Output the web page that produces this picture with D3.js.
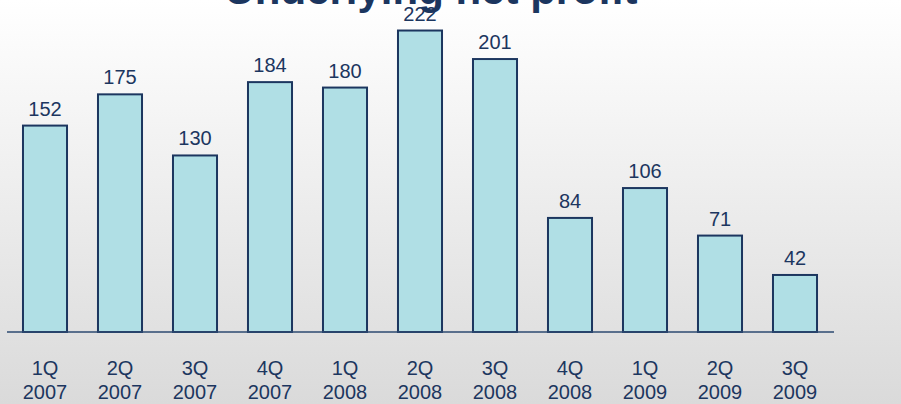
<!DOCTYPE html>
<html>
<head>
<meta charset="utf-8">
<script src="https://cdn.jsdelivr.net/npm/d3@7"></script>
<style>
  html, body { margin: 0; padding: 0; overflow: hidden; }
  svg { display: block; }
</style>
</head>
<body>
<svg id="chart" width="901" height="404"></svg>
<script>
const title = "Underlying net profit";
const quarters = ["1Q", "2Q", "3Q", "4Q", "1Q", "2Q", "3Q", "4Q", "1Q", "2Q", "3Q"];
const years = ["2007", "2007", "2007", "2007", "2008", "2008", "2008", "2008", "2009", "2009", "2009"];
const values = [152, 175, 130, 184, 180, 222, 201, 84, 106, 71, 42];
const categories = quarters.map((q, i) => q + " " + years[i]);

const W = 901, H = 404;
const svg = d3.select("#chart");
const navy = "#1c365f";

const defs = svg.append("defs");
const grad = defs.append("linearGradient").attr("id", "bg").attr("x1", 0).attr("y1", 0).attr("x2", 0).attr("y2", 1);
grad.append("stop").attr("offset", "0%").attr("stop-color", "#ffffff");
grad.append("stop").attr("offset", "100%").attr("stop-color", "#dadada");
svg.append("rect").attr("width", W).attr("height", H).attr("fill", "url(#bg)");

const x = d3.scaleBand().domain(categories).range([7.5, 832.5]).paddingInner(0.413).paddingOuter(0.2065);
const baseline = 332;
const y = d3.scaleLinear().domain([0, 250]).range([baseline, baseline - 250 * 1.358]);

// bars
svg.append("g").selectAll("rect").data(values).join("rect")
  .attr("x", (d, i) => x(categories[i]))
  .attr("y", d => y(d))
  .attr("width", x.bandwidth())
  .attr("height", d => y(0) - y(d))
  .attr("fill", "#b0dfe5")
  .attr("stroke", navy)
  .attr("stroke-width", 2);

// baseline axis
const axis = svg.append("g").attr("transform", `translate(0,${baseline})`)
  .call(d3.axisBottom(x).tickSize(0).tickFormat(""));
axis.select(".domain").attr("d", "M7,0H834").attr("stroke", "#2c4a70").attr("stroke-width", 1.5);

// category labels (two lines)
const lbl = svg.append("g").selectAll("text").data(categories).join("text")
  .attr("x", d => x(d) + x.bandwidth() / 2)
  .attr("text-anchor", "middle")
  .attr("font-family", "Liberation Sans, Arial, sans-serif")
  .attr("font-size", 20)
  .attr("fill", navy);
lbl.append("tspan").attr("x", d => x(d) + x.bandwidth() / 2).attr("y", 375).text((d, i) => quarters[i]);
lbl.append("tspan").attr("x", d => x(d) + x.bandwidth() / 2).attr("y", 399).text((d, i) => years[i]);

// value labels
svg.append("g").selectAll("text").data(values).join("text")
  .attr("x", (d, i) => x(categories[i]) + x.bandwidth() / 2)
  .attr("y", d => y(d) - 10)
  .attr("text-anchor", "middle")
  .attr("font-family", "Liberation Sans, Arial, sans-serif")
  .attr("font-size", 20)
  .attr("fill", navy)
  .text(d => d);

// title (partly cut off at top)
svg.append("text")
  .attr("x", 431)
  .attr("y", 4)
  .attr("text-anchor", "middle")
  .attr("font-family", "Liberation Sans, Arial, sans-serif")
  .attr("font-weight", "bold")
  .attr("font-size", 42)
  .attr("fill", navy)
  .text(title);
</script>
</body>
</html>
